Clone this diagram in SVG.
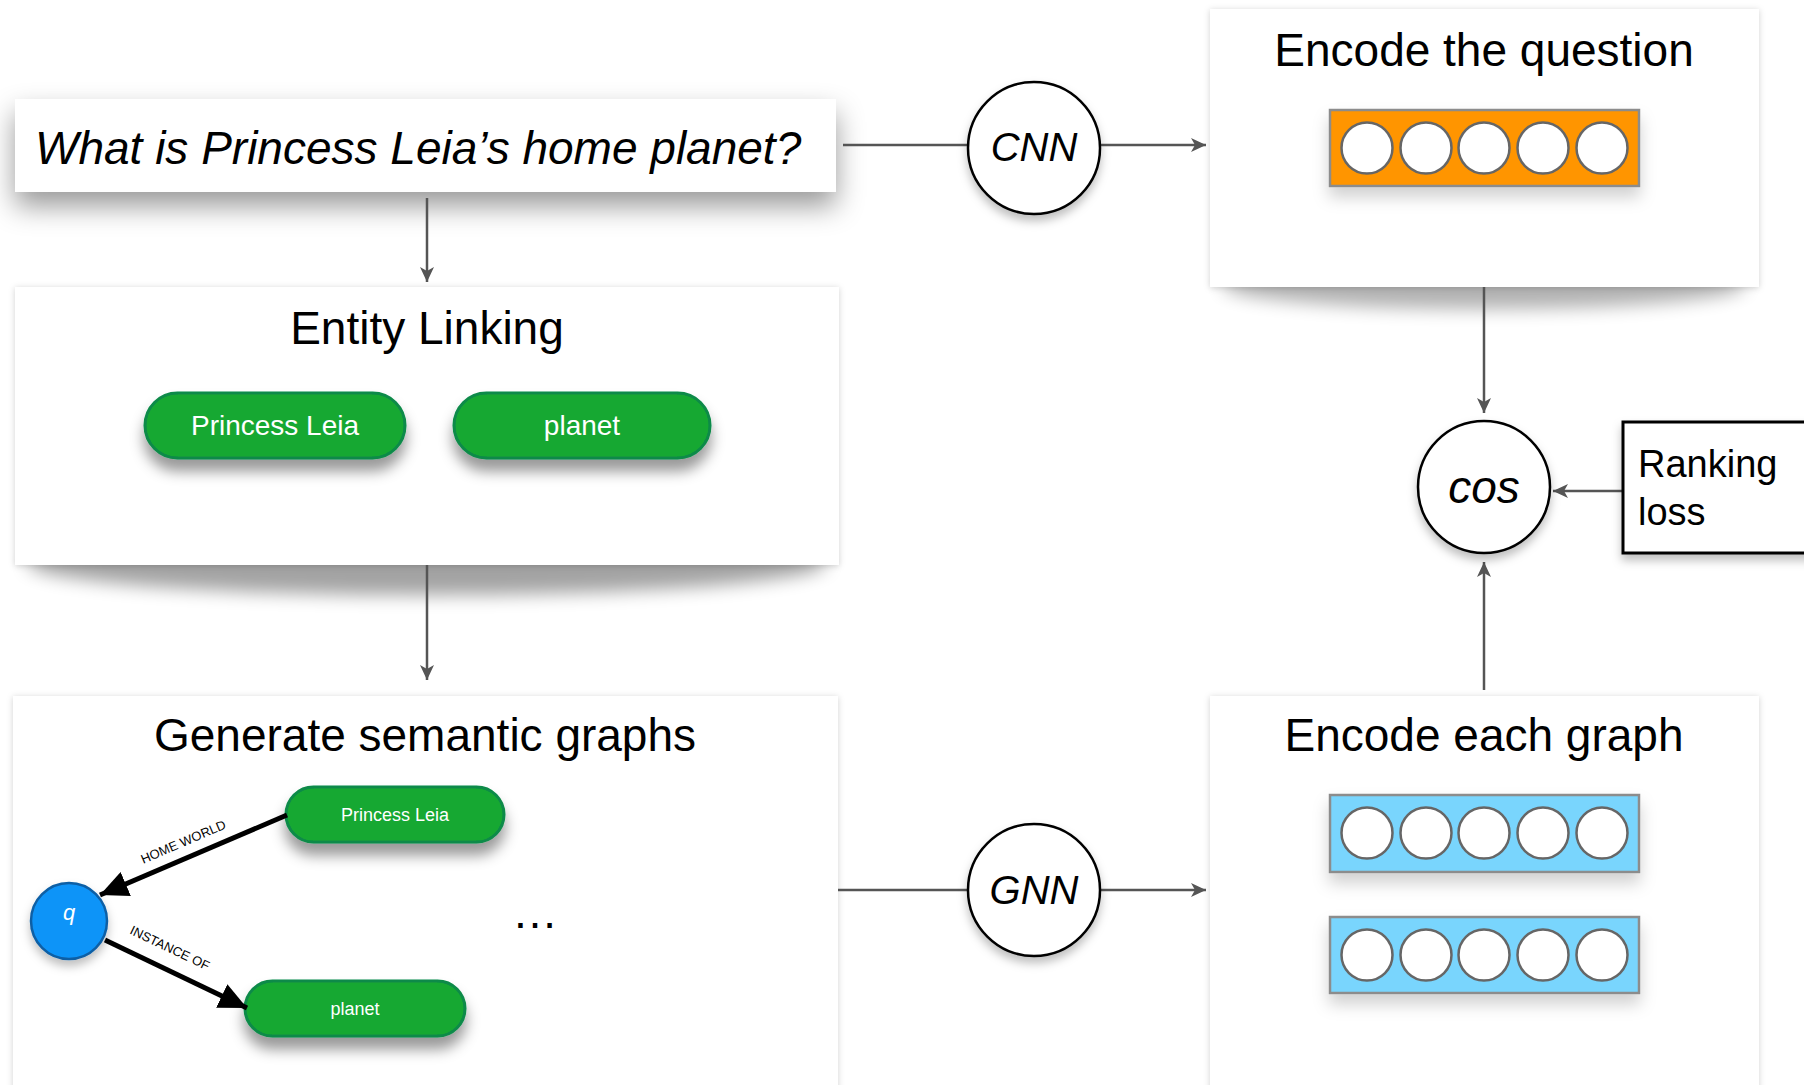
<svg xmlns="http://www.w3.org/2000/svg" width="1804" height="1085" viewBox="0 0 1804 1085">
<defs>
<style>
.t{font-family:"Liberation Sans",Arial,sans-serif;fill:#000}
.title{font-size:46px;text-anchor:middle}
.box{fill:#fff}
.pill{fill:#18a833;stroke:#0c8a48;stroke-width:3}
.ptxt{font-family:"Liberation Sans",Arial,sans-serif;fill:#fff;text-anchor:middle}
.op{fill:#fff;stroke:#000;stroke-width:2.5}
.optxt{font-family:"Liberation Sans",Arial,sans-serif;font-style:italic;text-anchor:middle;fill:#000}
.cell{fill:#fff;stroke:#666;stroke-width:2.5}
.bar{stroke:#8c8c8c;stroke-width:2.5}
.conn{stroke:#555;stroke-width:2.5;fill:none;marker-end:url(#ah)}
.line{stroke:#555;stroke-width:2.5;fill:none}
.edge{stroke:#000;stroke-width:5;fill:none;marker-end:url(#bh)}
.elab{font-family:"Liberation Sans",Arial,sans-serif;font-size:13px;text-anchor:middle;fill:#000}
</style>
<marker id="ah" markerUnits="userSpaceOnUse" markerWidth="16" markerHeight="14" refX="15" refY="7" orient="auto">
<path d="M0,0 L15,7 L0,14 L4,7 Z" fill="#555"/>
</marker>
<marker id="bh" markerUnits="userSpaceOnUse" markerWidth="30" markerHeight="26" refX="28" refY="13" orient="auto">
<path d="M0,0 L28,13 L0,26 Z" fill="#000"/>
</marker>
<filter id="fq" x="-10%" y="-40%" width="120%" height="200%">
<feDropShadow dx="0" dy="14" stdDeviation="14" flood-color="#000" flood-opacity="0.4"/>
</filter>
<filter id="fb" x="-5%" y="-5%" width="110%" height="110%">
<feDropShadow dx="0" dy="1" stdDeviation="3" flood-color="#000" flood-opacity="0.18"/>
</filter>
<filter id="fblur" x="-10%" y="-100%" width="120%" height="300%">
<feGaussianBlur stdDeviation="9"/>
</filter>
<filter id="fp" x="-20%" y="-40%" width="140%" height="220%">
<feDropShadow dx="0" dy="12" stdDeviation="7" flood-color="#000" flood-opacity="0.4"/>
</filter>
<filter id="fc" x="-30%" y="-30%" width="160%" height="170%">
<feDropShadow dx="0" dy="6" stdDeviation="5" flood-color="#000" flood-opacity="0.25"/>
</filter>
<filter id="fbar" x="-10%" y="-30%" width="120%" height="200%">
<feDropShadow dx="0" dy="10" stdDeviation="8" flood-color="#000" flood-opacity="0.18"/>
</filter>
</defs>
<rect width="1804" height="1085" fill="#fff"/>

<g id="question">
<rect class="box" x="15" y="99" width="821" height="93" filter="url(#fq)"/>
<text class="t" x="35" y="164" font-size="46" font-style="italic">What is Princess Leia’s home planet?</text>
</g>

<g id="entity-linking">
<ellipse cx="427" cy="563" rx="400" ry="32" fill="#000" opacity="0.36" filter="url(#fblur)"/>
<rect class="box" x="15" y="287" width="824" height="278" filter="url(#fb)"/>
<text class="t title" x="427" y="344">Entity Linking</text>
<g id="el-princess-leia">
<rect class="pill" x="145" y="393" width="260" height="65" rx="32.5" filter="url(#fp)"/>
<text class="ptxt" x="275" y="435" font-size="28">Princess Leia</text>
</g>
<g id="el-planet">
<rect class="pill" x="454" y="393" width="256" height="65" rx="32.5" filter="url(#fp)"/>
<text class="ptxt" x="582" y="435" font-size="28">planet</text>
</g>
</g>

<g id="generate-graphs">
<rect class="box" x="13" y="696" width="825" height="420" filter="url(#fb)"/>
<text class="t title" x="425" y="751">Generate semantic graphs</text>
<g id="g-princess-leia">
<rect class="pill" x="286" y="787" width="218" height="55" rx="27.5" filter="url(#fp)"/>
<text class="ptxt" x="395" y="821" font-size="18">Princess Leia</text>
</g>
<g id="g-planet">
<rect class="pill" x="245" y="981" width="220" height="55" rx="27.5" filter="url(#fp)"/>
<text class="ptxt" x="355" y="1015" font-size="18">planet</text>
</g>
<g id="g-q">
<circle cx="69" cy="921" r="38" fill="#0a94f8" stroke="#0b5fa5" stroke-width="2.5" filter="url(#fc)"/>
<text class="ptxt" x="69" y="920" font-size="22" font-style="italic">q</text>
</g>
<g id="g-edges">
<line class="edge" x1="287" y1="815" x2="100" y2="895"/>
<line class="edge" x1="105" y1="940" x2="247" y2="1008"/>
<text class="elab" transform="translate(185,846) rotate(-23.2)">HOME WORLD</text>
<text class="elab" transform="translate(168,952) rotate(25.6)">INSTANCE OF</text>
</g>
<text class="t" x="535" y="928" font-size="46" text-anchor="middle">…</text>
</g>

<g id="encode-question">
<ellipse cx="1484" cy="285" rx="262" ry="24" fill="#000" opacity="0.3" filter="url(#fblur)"/>
<rect class="box" x="1210" y="9" width="549" height="278" filter="url(#fb)"/>
<text class="t title" x="1484" y="66">Encode the question</text>
<g filter="url(#fbar)">
<rect class="bar" x="1330" y="110" width="309" height="76" fill="#ff9500"/>
<circle class="cell" cx="1367" cy="148" r="25.5"/>
<circle class="cell" cx="1426" cy="148" r="25.5"/>
<circle class="cell" cx="1484" cy="148" r="25.5"/>
<circle class="cell" cx="1543" cy="148" r="25.5"/>
<circle class="cell" cx="1602" cy="148" r="25.5"/>
</g>
</g>

<g id="encode-graph">
<rect class="box" x="1210" y="696" width="549" height="420" filter="url(#fb)"/>
<text class="t title" x="1484" y="751">Encode each graph</text>
<g filter="url(#fbar)">
<rect class="bar" x="1330" y="795" width="309" height="77" fill="#79d5fd"/>
<circle class="cell" cx="1367" cy="833" r="25.5"/>
<circle class="cell" cx="1426" cy="833" r="25.5"/>
<circle class="cell" cx="1484" cy="833" r="25.5"/>
<circle class="cell" cx="1543" cy="833" r="25.5"/>
<circle class="cell" cx="1602" cy="833" r="25.5"/>
</g>
<g filter="url(#fbar)">
<rect class="bar" x="1330" y="917" width="309" height="76" fill="#79d5fd"/>
<circle class="cell" cx="1367" cy="955" r="25.5"/>
<circle class="cell" cx="1426" cy="955" r="25.5"/>
<circle class="cell" cx="1484" cy="955" r="25.5"/>
<circle class="cell" cx="1543" cy="955" r="25.5"/>
<circle class="cell" cx="1602" cy="955" r="25.5"/>
</g>
</g>

<g id="connectors">
<line class="conn" x1="427" y1="198" x2="427" y2="282"/>
<line class="conn" x1="427" y1="565" x2="427" y2="680"/>
<line class="line" x1="843" y1="145" x2="968" y2="145"/>
<line class="conn" x1="1100" y1="145" x2="1206" y2="145"/>
<line class="conn" x1="1484" y1="287" x2="1484" y2="413"/>
<line class="conn" x1="1484" y1="690" x2="1484" y2="562"/>
<line class="conn" x1="1623" y1="491" x2="1553" y2="491"/>
<line class="line" x1="838" y1="890" x2="968" y2="890"/>
<line class="conn" x1="1100" y1="890" x2="1206" y2="890"/>
</g>

<g id="cnn">
<circle class="op" cx="1034" cy="148" r="66" filter="url(#fc)"/>
<text class="optxt" x="1034" y="161" font-size="40">CNN</text>
</g>

<g id="gnn">
<circle class="op" cx="1034" cy="890" r="66" filter="url(#fc)"/>
<text class="optxt" x="1034" y="904" font-size="40">GNN</text>
</g>

<g id="cos">
<circle class="op" cx="1484" cy="487" r="66" filter="url(#fc)"/>
<text class="optxt" x="1484" y="503" font-size="46">cos</text>
</g>

<g id="ranking-loss">
<rect x="1623" y="422" width="220" height="131" fill="#fff" stroke="#000" stroke-width="3" filter="url(#fc)"/>
<text class="t" x="1638" y="477" font-size="38">Ranking</text>
<text class="t" x="1638" y="525" font-size="38">loss</text>
</g>
</svg>
